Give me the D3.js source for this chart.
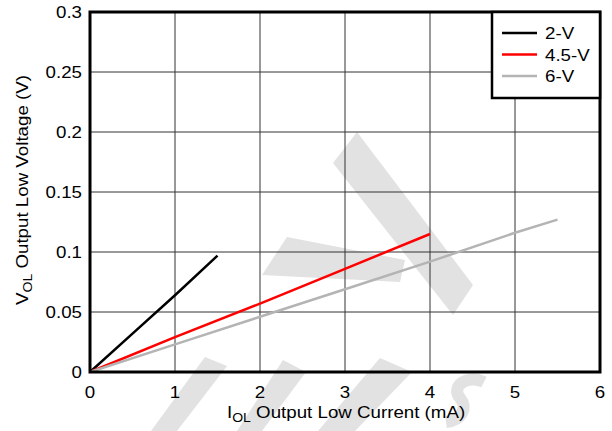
<!DOCTYPE html>
<html>
<head>
<meta charset="utf-8">
<script src="https://cdn.jsdelivr.net/npm/d3@7"></script>
<style>
  body { margin: 0; background: #fff; }
  text { font-family: "Liberation Sans", Arial, sans-serif; }
</style>
</head>
<body>
<div id="chart"></div>
<script>
const xTicks = [0, 1, 2, 3, 4, 5, 6];
const yTicks = [0, 0.05, 0.1, 0.15, 0.2, 0.25, 0.3];
const yTickLabels = ["0", "0.05", "0.1", "0.15", "0.2", "0.25", "0.3"];

const x2V = [0, 0.5, 1, 1.5];
const y2V = [0, 0.032, 0.064, 0.097];
const x45V = [0, 1, 2, 3, 4];
const y45V = [0, 0.029, 0.057, 0.086, 0.115];
const x6V = [0, 1, 2, 3, 4, 5, 5.5];
const y6V = [0, 0.023, 0.046, 0.069, 0.092, 0.116, 0.127];

const seriesNames = ["2-V", "4.5-V", "6-V"];
const seriesColors = ["#000000", "#ff0000", "#b4b4b4"];

let width = 612;
let height = 431;
let margin = { left: 90, right: 12, top: 12, bottom: 59 };
let stretch = 1.17; // text in the original is a bit wider than Liberation Sans

const svg = d3.select("#chart").append("svg")
  .attr("width", width)
  .attr("height", height);

// watermark shapes (light grey)
const wm = [
  [[357, 132], [333, 163], [453, 315], [473, 285]],
  [[287, 237], [262, 275], [400, 282], [405, 260]],
  [[205, 357], [227, 366], [177, 431], [151, 431]],
  [[283, 360], [306, 372], [262, 431], [237, 431]],
  [[380, 358], [412, 372], [355, 431], [318, 431]],
];
svg.selectAll("polygon.wm").data(wm).enter().append("polygon")
  .attr("class", "wm")
  .attr("points", d => d.map(p => p.join(",")).join(" "))
  .style("fill", "#e2e2e2");
svg.append("path")
  .attr("d", "M484,382 C468,374 450,386 460,398 C468,408 462,420 446,422")
  .style("fill", "none")
  .style("stroke", "#e2e2e2")
  .style("stroke-width", 12);

const x = d3.scaleLinear().domain([0, 6]).range([margin.left, width - margin.right]);
const y = d3.scaleLinear().domain([0, 0.3]).range([height - margin.bottom, margin.top]);

// grid
svg.append("g").selectAll("line").data(xTicks.slice(1, -1)).enter().append("line")
  .attr("x1", d => x(d)).attr("x2", d => x(d))
  .attr("y1", y(0)).attr("y2", y(0.3))
  .style("stroke", "#333").style("stroke-width", 1);
svg.append("g").selectAll("line").data(yTicks.slice(1, -1)).enter().append("line")
  .attr("y1", d => y(d)).attr("y2", d => y(d))
  .attr("x1", x(0)).attr("x2", x(6))
  .style("stroke", "#333").style("stroke-width", 1);

// series
const series = [
  { xs: x2V, ys: y2V },
  { xs: x45V, ys: y45V },
  { xs: x6V, ys: y6V },
];
const line = d3.line().x(d => x(d[0])).y(d => y(d[1]));
series.forEach((s, i) => {
  svg.append("path")
    .datum(s.xs.map((v, j) => [v, s.ys[j]]))
    .attr("d", line)
    .style("fill", "none")
    .style("stroke", seriesColors[i])
    .style("stroke-width", 2.5);
});

// frame
svg.append("rect")
  .attr("x", x(0)).attr("y", y(0.3))
  .attr("width", x(6) - x(0)).attr("height", y(0) - y(0.3))
  .style("fill", "none").style("stroke", "#000").style("stroke-width", 3);

// tick labels
svg.append("g").selectAll("text").data(xTicks).enter().append("text")
  .attr("transform", d => `translate(${x(d)},${y(0) + 26}) scale(${stretch},1)`)
  .attr("text-anchor", "middle")
  .style("font-size", "16px")
  .text(d => d);
svg.append("g").selectAll("text").data(yTicks).enter().append("text")
  .attr("transform", d => `translate(${x(0) - 8},${y(d) + 6}) scale(${stretch},1)`)
  .attr("text-anchor", "end")
  .style("font-size", "16px")
  .text((d, i) => yTickLabels[i]);

// axis titles
const xt = svg.append("text")
  .attr("transform", `translate(227,418) scale(${stretch},1)`)
  .style("font-size", "16px");
xt.append("tspan").text("I");
xt.append("tspan").attr("dy", 4).style("font-size", "12px").text("OL");
xt.append("tspan").attr("dy", -4).text(" Output Low Current (mA)");

const yt = svg.append("text")
  .attr("transform", `translate(28,190) rotate(-90) scale(${stretch},1)`)
  .attr("text-anchor", "middle")
  .style("font-size", "16px");
yt.append("tspan").text("V");
yt.append("tspan").attr("dy", 4).style("font-size", "12px").text("OL");
yt.append("tspan").attr("dy", -4).text(" Output Low Voltage (V)");

// legend
const lg = svg.append("g");
lg.append("rect")
  .attr("x", 492).attr("y", 12)
  .attr("width", x(6) - 492).attr("height", 86)
  .style("fill", "#fff").style("stroke", "#000").style("stroke-width", 2.5);
seriesNames.forEach((n, i) => {
  const ly = 33 + i * 21.5;
  lg.append("line")
    .attr("x1", 502).attr("x2", 537)
    .attr("y1", ly).attr("y2", ly)
    .style("stroke", seriesColors[i]).style("stroke-width", 2.5);
  lg.append("text")
    .attr("transform", `translate(545,${ly + 6}) scale(${stretch},1)`)
    .style("font-size", "16px")
    .text(n);
});
</script>
</body>
</html>
